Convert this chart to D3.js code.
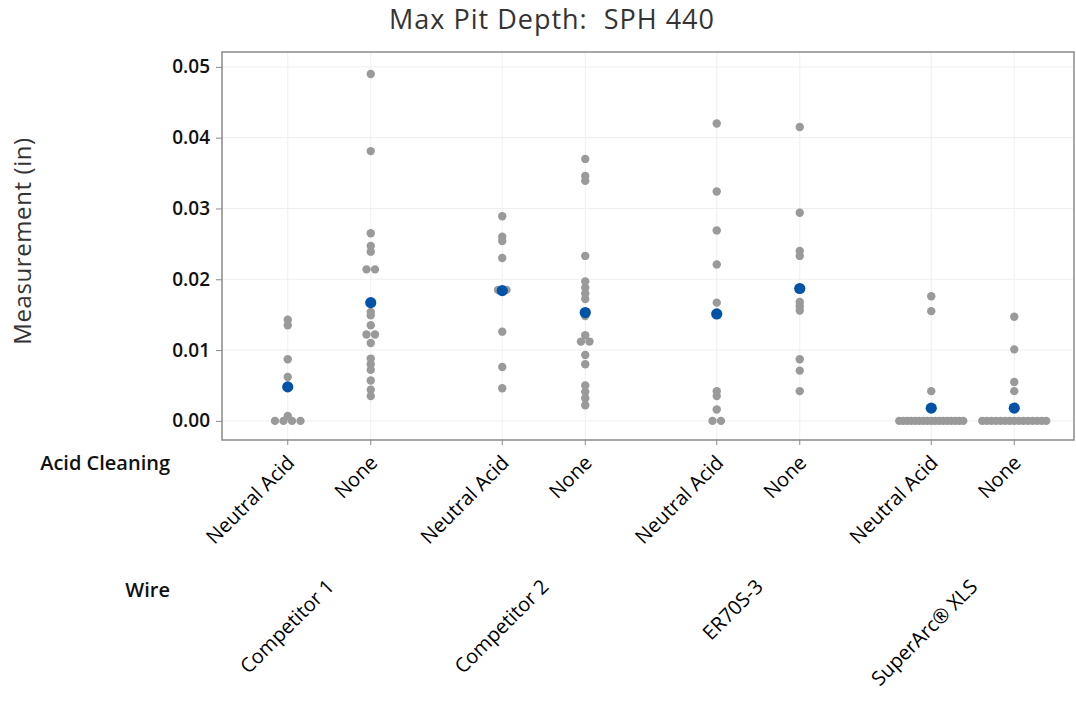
<!DOCTYPE html>
<html>
<head>
<meta charset="utf-8">
<script src="https://cdn.jsdelivr.net/npm/d3@7"></script>
<style>
  body { margin: 0; background: #fff; }
  text { font-family: "Open Sans", "Noto Sans", sans-serif; }
</style>
</head>
<body>
<div id="chart"></div>
<script>
// data
var wires = ["Competitor 1", "Competitor 2", "ER70S-3", "SuperArc\u00ae XLS"];
var cleanings = ["Neutral Acid", "None"];
var yTicks = [0, 0.01, 0.02, 0.03, 0.04, 0.05];

var comp1Neutral = [0.0143, 0.0135, 0.0087, 0.0062, 0.0007, 0, 0, 0, 0];
var comp1None = [0.0490, 0.0381, 0.0265, 0.0247, 0.0239, 0.0214, 0.0214, 0.0154, 0.0149, 0.0135,
                 0.0122, 0.0122, 0.0110, 0.0088, 0.0080, 0.0072, 0.0057, 0.0044, 0.0035];
var comp2Neutral = [0.0289, 0.0260, 0.0254, 0.0230, 0.0185, 0.0185, 0.0126, 0.0076, 0.0046];
var comp2None = [0.0370, 0.0346, 0.0339, 0.0233, 0.0197, 0.0188, 0.0180, 0.0172, 0.0148, 0.0121,
                 0.0112, 0.0112, 0.0093, 0.0080, 0.0050, 0.0041, 0.0032, 0.0022];
var er70Neutral = [0.0420, 0.0324, 0.0269, 0.0221, 0.0167, 0.0042, 0.0035, 0.0016, 0, 0];
var er70None = [0.0415, 0.0294, 0.0240, 0.0233, 0.0168, 0.0162, 0.0156, 0.0087, 0.0071, 0.0042];
var superNeutral = [0.0176, 0.0155, 0.0042, 0, 0, 0, 0, 0, 0, 0, 0, 0, 0, 0, 0, 0, 0, 0, 0, 0];
var superNone = [0.0147, 0.0101, 0.0055, 0.0042, 0, 0, 0, 0, 0, 0, 0, 0, 0, 0, 0, 0, 0, 0, 0];

// blue dots = group means
var meansNeutral = [0.0048, 0.0184, 0.0151, 0.0018];
var meansNone = [0.0167, 0.0153, 0.0187, 0.0018];

var cells = [
  {wire: wires[0], clean: cleanings[0], values: comp1Neutral, mean: meansNeutral[0]},
  {wire: wires[0], clean: cleanings[1], values: comp1None, mean: meansNone[0]},
  {wire: wires[1], clean: cleanings[0], values: comp2Neutral, mean: meansNeutral[1]},
  {wire: wires[1], clean: cleanings[1], values: comp2None, mean: meansNone[1]},
  {wire: wires[2], clean: cleanings[0], values: er70Neutral, mean: meansNeutral[2]},
  {wire: wires[2], clean: cleanings[1], values: er70None, mean: meansNone[2]},
  {wire: wires[3], clean: cleanings[0], values: superNeutral, mean: meansNeutral[3]},
  {wire: wires[3], clean: cleanings[1], values: superNone, mean: meansNone[3]}
];

var width = 1076;
var height = 704;
var pLeft = 222, pRight = 1074, pTop = 52, pBottom = 440;

var svg = d3.select("#chart").append("svg")
    .attr("width", width)
    .attr("height", height);

var y = d3.scaleLinear().domain([-0.0027, 0.0521]).range([pBottom, pTop]);
var xWire = d3.scaleBand().domain(wires).range([pLeft, pLeft + 4 * 214.5]);
var xClean = d3.scalePoint().domain(cleanings).range([-41.5, 41.5]);
function cx(c) { return xWire(c.wire) + xWire.bandwidth() / 2 + xClean(c.clean); }

// grid
svg.append("g").selectAll("line").data(yTicks).enter().append("line")
    .attr("x1", pLeft).attr("x2", pRight)
    .attr("y1", function(d) { return y(d); })
    .attr("y2", function(d) { return y(d); })
    .style("stroke", "#efefef").style("stroke-width", 1);

svg.append("g").selectAll("line").data(cells).enter().append("line")
    .attr("x1", cx).attr("x2", cx)
    .attr("y1", pTop).attr("y2", pBottom)
    .style("stroke", "#efefef").style("stroke-width", 1);

// y axis
var yAxis = svg.append("g")
    .attr("transform", "translate(" + pLeft + ",0)")
    .call(d3.axisLeft(y).tickValues(yTicks).tickFormat(d3.format(".2f")).tickSize(6).tickPadding(6));
yAxis.select(".domain").remove();
yAxis.selectAll("line").style("stroke", "#888");
yAxis.selectAll("text")
    .style("font-size", "19px")
    .style("font-weight", "600")
    .style("fill", "#111");

// x ticks
svg.append("g").selectAll("line").data(cells).enter().append("line")
    .attr("x1", cx).attr("x2", cx)
    .attr("y1", pBottom).attr("y2", pBottom + 5)
    .style("stroke", "#888");

// frame
svg.append("rect")
    .attr("x", pLeft).attr("y", pTop)
    .attr("width", pRight - pLeft).attr("height", pBottom - pTop)
    .style("fill", "none")
    .style("stroke", "#8a8a8a")
    .style("stroke-width", 1.5);

// points, equal values dodged sideways
var pts = [];
cells.forEach(function(c) {
  d3.group(c.values, function(v) { return v; }).forEach(function(arr, v) {
    var n = arr.length;
    var step = n > 1 ? Math.min(8.5, 64 / (n - 1)) : 0;
    arr.forEach(function(d, i) {
      pts.push({x: cx(c) + (i - (n - 1) / 2) * step, v: v});
    });
  });
});

svg.append("g").selectAll("circle").data(pts).enter().append("circle")
    .attr("cx", function(d) { return d.x; })
    .attr("cy", function(d) { return y(d.v); })
    .attr("r", 4.2)
    .style("fill", "#9a9a9a");

svg.append("g").selectAll("circle").data(cells).enter().append("circle")
    .attr("cx", cx)
    .attr("cy", function(d) { return y(d.mean); })
    .attr("r", 5.6)
    .style("fill", "#0053a6");

// category labels
svg.append("g").selectAll("text").data(cells).enter().append("text")
    .attr("transform", function(d) { return "translate(" + (cx(d) + 8) + ",464) rotate(-45)"; })
    .attr("text-anchor", "end")
    .text(function(d) { return d.clean; })
    .style("font-size", "20px")
    .style("fill", "#000");

svg.append("g").selectAll("text").data(wires).enter().append("text")
    .attr("transform", function(d) { return "translate(" + (xWire(d) + xWire.bandwidth() / 2 + 6) + ",588) rotate(-45)"; })
    .attr("text-anchor", "end")
    .text(function(d) { return d; })
    .style("font-size", "20px")
    .style("fill", "#000");

svg.append("text")
    .attr("x", 170).attr("y", 470)
    .attr("text-anchor", "end")
    .text("Acid Cleaning")
    .style("font-size", "20px").style("font-weight", "600").style("fill", "#111");

svg.append("text")
    .attr("x", 170).attr("y", 597)
    .attr("text-anchor", "end")
    .text("Wire")
    .style("font-size", "20px").style("font-weight", "600").style("fill", "#111");

// titles
svg.append("text")
    .attr("x", 552).attr("y", 29)
    .attr("text-anchor", "middle")
    .text("Max Pit Depth:\u00a0 SPH 440")
    .style("font-size", "27px")
    .style("letter-spacing", "1px")
    .style("fill", "#333");

svg.append("text")
    .attr("transform", "translate(31,241) rotate(-90)")
    .attr("text-anchor", "middle")
    .text("Measurement (in)")
    .style("font-size", "24px")
    .style("letter-spacing", "0.6px")
    .style("fill", "#333");
</script>
</body>
</html>
